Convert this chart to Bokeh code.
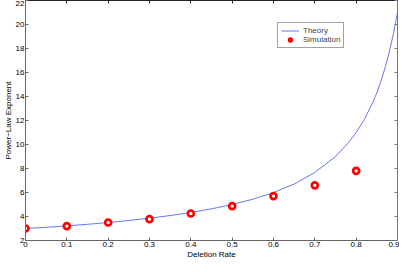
from bokeh.plotting import figure
from bokeh.models import LinearAxis, Legend, LegendItem, FixedTicker, Range1d, CustomJSTickFormatter
from bokeh.embed import file_html
from bokeh.resources import INLINE

# Theory curve
theory_x = [0.0, 0.05, 0.1, 0.15, 0.2, 0.25, 0.3, 0.35, 0.4, 0.45, 0.5, 0.55, 0.6,
            0.65, 0.7, 0.75, 0.78, 0.8, 0.82, 0.83, 0.84, 0.85, 0.86, 0.87, 0.88, 0.89, 0.9]
theory_y = [3.0, 3.1, 3.22, 3.35, 3.5, 3.67, 3.86, 4.08, 4.33, 4.64, 5.0, 5.44, 6.0,
            6.7, 7.67, 9.0, 10.1, 11.0, 12.1, 12.8, 13.5, 14.3, 15.3, 16.4, 17.7, 19.2, 21.0]

# Simulation points
sim_x = [0.0, 0.1, 0.2, 0.3, 0.4, 0.5, 0.6, 0.7, 0.8]
sim_y = [3.0, 3.2, 3.5, 3.78, 4.25, 4.86, 5.7, 6.6, 7.8]

x_ticks = [0, 0.1, 0.2, 0.3, 0.4, 0.5, 0.6, 0.7, 0.8, 0.9]
y_ticks = [2, 4, 6, 8, 10, 12, 14, 16, 18, 20, 22]

FONT = "Liberation Sans"
FS = "8px"

p = figure(width=399, height=261, output_backend="svg", toolbar_location=None,
           x_range=Range1d(0, 0.9), y_range=Range1d(2, 22),
           min_border_left=1, min_border_right=2, min_border_top=0, min_border_bottom=0)
p.grid.visible = False
p.outline_line_color = None
p.background_fill_color = "white"
p.border_fill_color = "white"

def style_axis(ax, labels=True, color="#666666"):
    ax.major_tick_in = 3
    ax.major_tick_out = 0
    ax.minor_tick_in = 0
    ax.minor_tick_out = 0
    ax.axis_line_color = color
    ax.major_tick_line_color = color
    ax.axis_line_width = 1
    if labels:
        ax.major_label_text_font = FONT
        ax.major_label_text_font_size = FS
        ax.major_label_text_color = "black"
        ax.major_label_standoff = 1
        ax.axis_label_text_font = FONT
        ax.axis_label_text_font_size = FS
        ax.axis_label_text_font_style = "normal"
        ax.axis_label_text_color = "black"
        ax.axis_label_standoff = 0
    else:
        ax.formatter = CustomJSTickFormatter(code="return ''")
        ax.major_label_text_font_size = "1px"
        ax.major_label_standoff = 0

p.xaxis.ticker = FixedTicker(ticks=x_ticks)
p.yaxis.ticker = FixedTicker(ticks=y_ticks)
p.xaxis.axis_label = "Deletion Rate"
p.yaxis.axis_label = "Power\u2212Law Exponent"
style_axis(p.xaxis[0])
style_axis(p.yaxis[0])

top = LinearAxis(ticker=FixedTicker(ticks=x_ticks))
style_axis(top, labels=False, color="#222222")
p.add_layout(top, "above")
right = LinearAxis(ticker=FixedTicker(ticks=y_ticks))
style_axis(right, labels=False, color="#777777")
p.add_layout(right, "right")

r_theory = p.line(theory_x, theory_y, line_color="#6677f2", line_width=1)
r_sim = p.scatter(sim_x, sim_y, marker="circle", size=6, line_color="#ff0000",
                  line_width=2.7, fill_color="white")

legend = Legend(items=[LegendItem(label="Theory", renderers=[r_theory]),
                       LegendItem(label="Simulation", renderers=[r_sim])],
                location=(252, 192))
legend.label_text_font = FONT
legend.label_text_font_size = FS
legend.label_height = 6
legend.glyph_height = 7
legend.glyph_width = 18
legend.label_standoff = 4
legend.spacing = 0
legend.padding = 3
legend.margin = 0
legend.border_line_color = "#444444"
legend.border_line_width = 1
legend.background_fill_color = "white"
p.add_layout(legend, "center")

open("out.html", "w").write(file_html(p, INLINE))
